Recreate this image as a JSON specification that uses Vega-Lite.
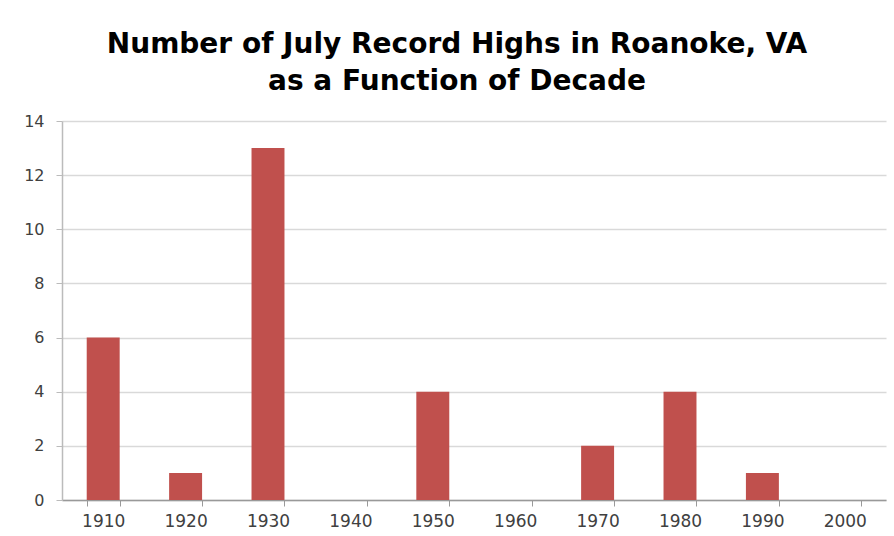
{
  "$schema": "https://vega.github.io/schema/vega-lite/v6.json",
  "width": 824,
  "height": 379,
  "autosize": "none",
  "padding": {"left": 62, "top": 121, "right": 8, "bottom": 36},
  "background": "white",
  "title": {
    "text": ["Number of July Record Highs in Roanoke, VA", "as a Function of Decade"],
    "font": "DejaVu Sans",
    "fontSize": 28,
    "fontWeight": "bold",
    "color": "#000000",
    "anchor": "middle",
    "frame": "group",
    "baseline": "alphabetic",
    "lineHeight": 37,
    "dx": -17,
    "offset": -5
  },
  "data": {
    "values": [
      {"decade": "1910", "count": 6},
      {"decade": "1920", "count": 1},
      {"decade": "1930", "count": 13},
      {"decade": "1940", "count": 0},
      {"decade": "1950", "count": 4},
      {"decade": "1960", "count": 0},
      {"decade": "1970", "count": 2},
      {"decade": "1980", "count": 4},
      {"decade": "1990", "count": 1},
      {"decade": "2000", "count": 0}
    ]
  },
  "mark": {"type": "bar", "color": "#C0504D"},
  "encoding": {
    "x": {
      "field": "decade",
      "type": "ordinal",
      "sort": null,
      "scale": {"paddingInner": 0.6, "paddingOuter": 0.3},
      "axis": {
        "title": null,
        "labelAngle": 0,
        "bandPosition": 0,
        "tickExtra": true,
        "tickBand": "extent",
        "labelFont": "DejaVu Sans",
        "labelFontSize": 17,
        "labelColor": "#404040",
        "labelPadding": 7,
        "tickColor": "#999999",
        "tickSize": 6,
        "domainColor": "#999999",
        "domainWidth": 1.5,
        "grid": false
      }
    },
    "y": {
      "field": "count",
      "type": "quantitative",
      "scale": {"domain": [0, 14], "nice": false},
      "axis": {
        "title": null,
        "values": [0, 2, 4, 6, 8, 10, 12, 14],
        "labelFont": "DejaVu Sans",
        "labelFontSize": 16,
        "labelColor": "#404040",
        "labelPadding": 12,
        "tickColor": "#bbbbbb",
        "tickSize": 6,
        "domainColor": "#bbbbbb",
        "domainWidth": 1.5,
        "grid": true,
        "gridColor": "#d9d9d9",
        "gridWidth": 1.5
      }
    }
  },
  "config": {
    "view": {"stroke": null}
  }
}
